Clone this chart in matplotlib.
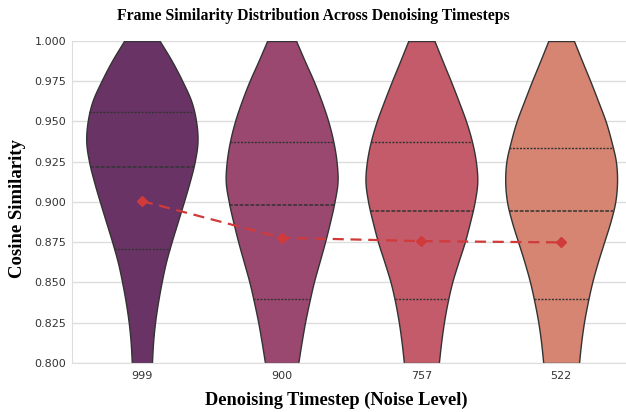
import numpy as np
import matplotlib
matplotlib.use("Agg")
import matplotlib.pyplot as plt

# timesteps shown left to right
timesteps = ["999", "900", "757", "522"]
colors = ["#6a3366", "#9b4870", "#c45b6a", "#d58572"]

# cosine-similarity levels where the violin half-widths were read
levels = [1.000, 0.9875, 0.975, 0.9625, 0.950, 0.9375, 0.925, 0.9125, 0.900,
          0.8875, 0.875, 0.8625, 0.850, 0.8375, 0.825, 0.8125, 0.800]

# half-width of each violin at those levels (category units)
width_999 = [0.128, 0.215, 0.290, 0.354, 0.388, 0.398, 0.378, 0.342, 0.300,
             0.256, 0.212, 0.172, 0.141, 0.115, 0.094, 0.080, 0.072]
width_900 = [0.104, 0.166, 0.230, 0.286, 0.334, 0.370, 0.393, 0.400, 0.378,
             0.346, 0.310, 0.270, 0.230, 0.197, 0.167, 0.142, 0.119]
width_757 = [0.094, 0.152, 0.211, 0.267, 0.320, 0.362, 0.390, 0.400, 0.381,
             0.348, 0.310, 0.264, 0.220, 0.187, 0.161, 0.141, 0.125]
width_522 = [0.092, 0.150, 0.209, 0.265, 0.319, 0.360, 0.392, 0.400, 0.387,
             0.352, 0.307, 0.262, 0.222, 0.190, 0.163, 0.143, 0.128]

# quartiles (q1, median, q3) and means
q1 = [0.871, 0.8395, 0.8395, 0.8395]
median = [0.9217, 0.898, 0.8946, 0.8946]
q3 = [0.956, 0.9374, 0.9374, 0.9333]
means = [0.9006, 0.8778, 0.8757, 0.8749]


def smooth(y, w, n=12):
    # catmull-rom through the read points, just for a rounded outline
    y = np.asarray(y, float)
    w = np.asarray(w, float)
    yp = np.concatenate([[2 * y[0] - y[1]], y, [2 * y[-1] - y[-2]]])
    wp = np.concatenate([[2 * w[0] - w[1]], w, [2 * w[-1] - w[-2]]])
    ys, ws = [], []
    t = np.linspace(0, 1, n, endpoint=False)
    for i in range(1, len(yp) - 2):
        for arr, out in ((yp, ys), (wp, ws)):
            p0, p1, p2, p3 = arr[i - 1:i + 3]
            out.extend(0.5 * (2 * p1 + (-p0 + p2) * t
                              + (2 * p0 - 5 * p1 + 4 * p2 - p3) * t ** 2
                              + (-p0 + 3 * p1 - 3 * p2 + p3) * t ** 3))
    ys.append(y[-1])
    ws.append(w[-1])
    return np.array(ys), np.array(ws)


fig = plt.figure(figsize=(6.26, 4.12), dpi=100)
ax = fig.add_axes([72 / 626, 49 / 412, 554 / 626, 322 / 412])

widths = [width_999, width_900, width_757, width_522]
for i, w in enumerate(widths):
    ys, ws = smooth(levels, w)
    ax.fill_betweenx(ys, i - ws, i + ws, facecolor=colors[i],
                     edgecolor="#333333", linewidth=1.0, zorder=2)
    ysort = ys[::-1]
    wsort = ws[::-1]
    for q, ls, lw in ((q1[i], (0, (1.5, 1)), 1.0),
                      (median[i], (0, (2.5, 1)), 1.1),
                      (q3[i], (0, (1.5, 1)), 1.0)):
        hw = np.interp(q, ysort, wsort)
        ax.plot([i - hw, i + hw], [q, q], color="#333333", linestyle=ls,
                linewidth=lw, zorder=3)

ax.plot(range(len(timesteps)), means, color="#d03a3a", linestyle="--",
        linewidth=1.6, dashes=(5, 3), marker="D", markersize=5, zorder=4)

ax.set_ylim(0.8, 1.0)
ax.set_xlim(-0.5, 3.5 - 5 / 139.7)
ax.set_xticks(range(len(timesteps)))
ax.set_xticklabels(timesteps)
ax.set_yticks(np.arange(0.8, 1.0001, 0.025))
ax.yaxis.set_major_formatter(matplotlib.ticker.FormatStrFormatter("%.3f"))
ax.tick_params(labelsize=8, colors="#333333", length=0)
ax.tick_params(axis="y", pad=4)
ax.tick_params(axis="x", pad=6)
ax.grid(axis="y", color="#dddddd", linewidth=1.0, zorder=0)
ax.set_axisbelow(True)
for side in ("top", "right"):
    ax.spines[side].set_visible(False)
for side in ("left", "bottom"):
    ax.spines[side].set_color("#dddddd")

serif = {"family": "Liberation Serif", "weight": "bold"}
ax.set_xlabel("Denoising Timestep (Noise Level)", fontdict=serif, fontsize=13.2)
ax.xaxis.set_label_coords((336 - 72) / 554, -29 / 322)
ax.set_ylabel("Cosine Similarity", fontdict=serif, fontsize=13.5)
ax.yaxis.set_label_coords(-(72 - 26) / 554, 0.48)
fig.text(0.5, 1 - 16 / 412,
         "Frame Similarity Distribution Across Denoising Timesteps",
         ha="center", va="center", fontsize=11.3, **serif)

fig.savefig("out.png", dpi=100)
